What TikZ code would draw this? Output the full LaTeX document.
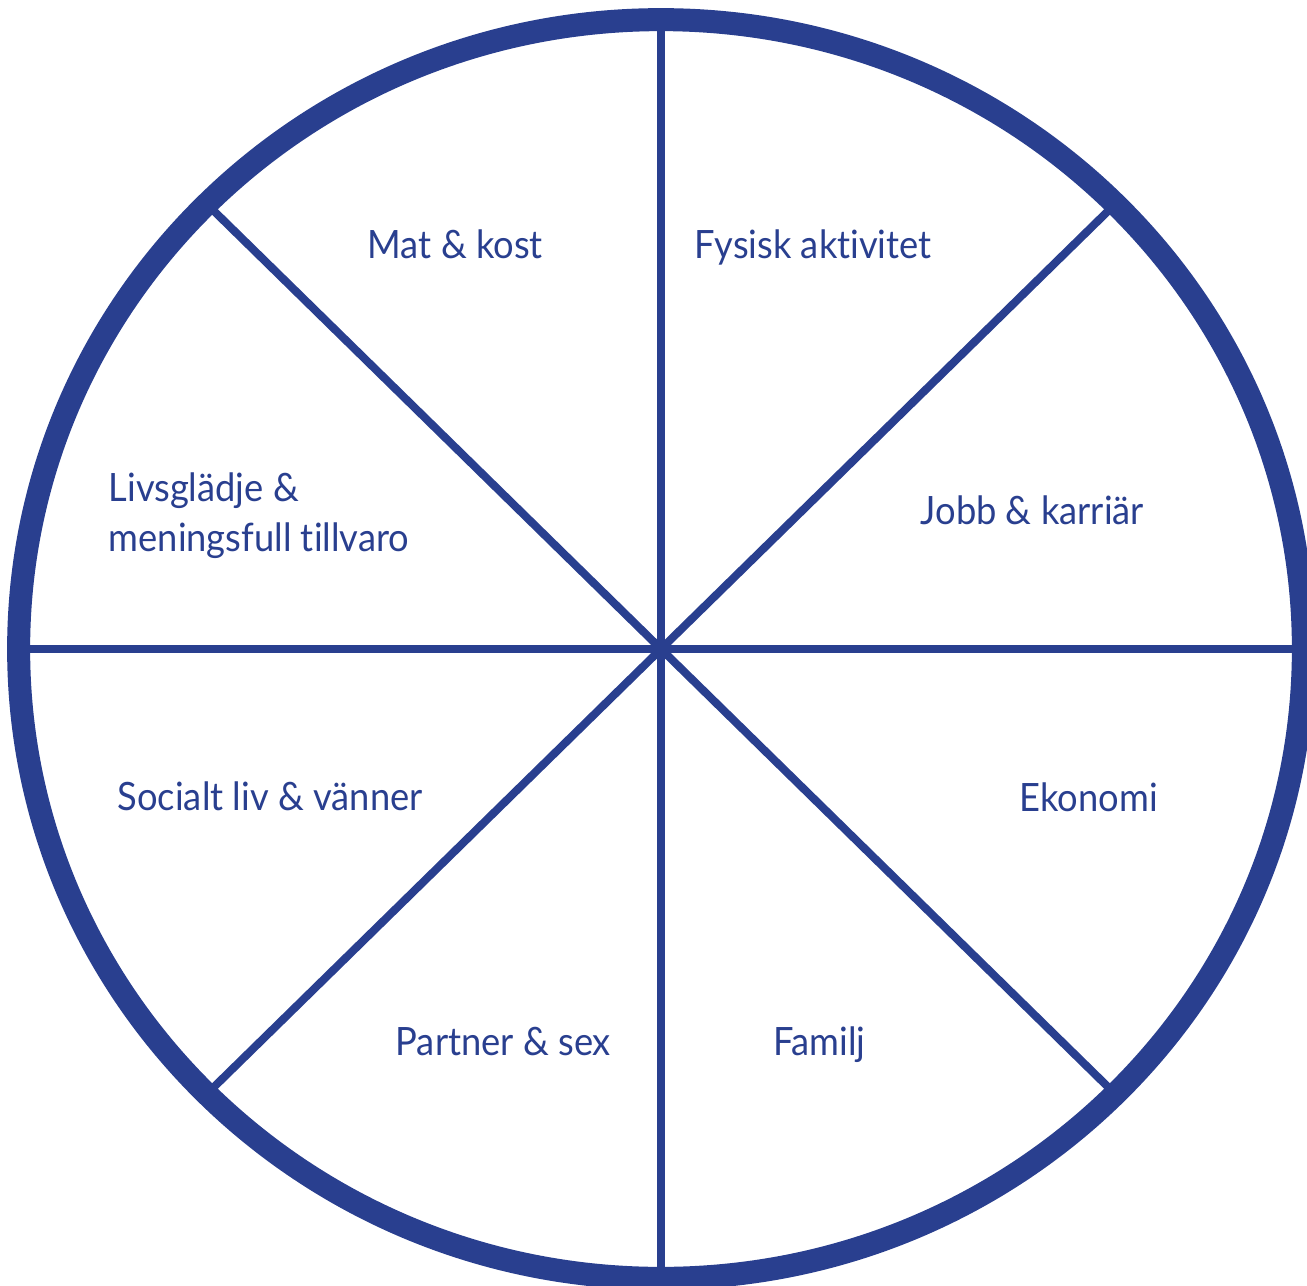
\documentclass[tikz,border=0pt]{standalone}
\usepackage{fontspec}
\setmainfont{Lato}[FakeStretch=0.93, Ligatures=NoCommon]
\usepackage{tikz}
\definecolor{wheelblue}{RGB}{41,63,143}

\tikzset{
  rim/.style={draw=wheelblue, line width=0.23cm},
  spoke/.style={draw=wheelblue, line width=0.08cm},
  area/.style={text=wheelblue, anchor=base west, font=\fontsize{11.1}{14.2}\selectfont, inner sep=0pt, align=left}
}

\begin{document}
\begin{tikzpicture}[x=0.01cm, y=-0.01cm]
% Page
\useasboundingbox (0,0) rectangle (1307,1285);

% Centre of the wheel
\coordinate (mid) at (661,649);

% Spokes
\foreach \a in {0,45,...,315}
  \draw[spoke] (mid) -- ++(\a:642 and 629);

% Rim
\draw[rim] (mid) ellipse [x radius=6.42cm, y radius=6.29cm];

% Labels
\node[area] (mat) at (367,258) {Mat \& kost};
\node[area] (fysisk) at (694,258) {Fysisk aktivitet};
\node[area] (jobb) at (920,524) {Jobb \& karriär};
\node[area, anchor=west] (livs) at (108,516) {Livsglädje \&\\meningsfull tillvaro};
\node[area] (social) at (117,810) {Socialt liv \& vänner};
\node[area] (ekonomi) at (1019,811) {Ekonomi};
\node[area] (partner) at (395,1055) {Partner \& sex};
\node[area] (familj) at (773,1055) {Familj};
\end{tikzpicture}
\end{document}
